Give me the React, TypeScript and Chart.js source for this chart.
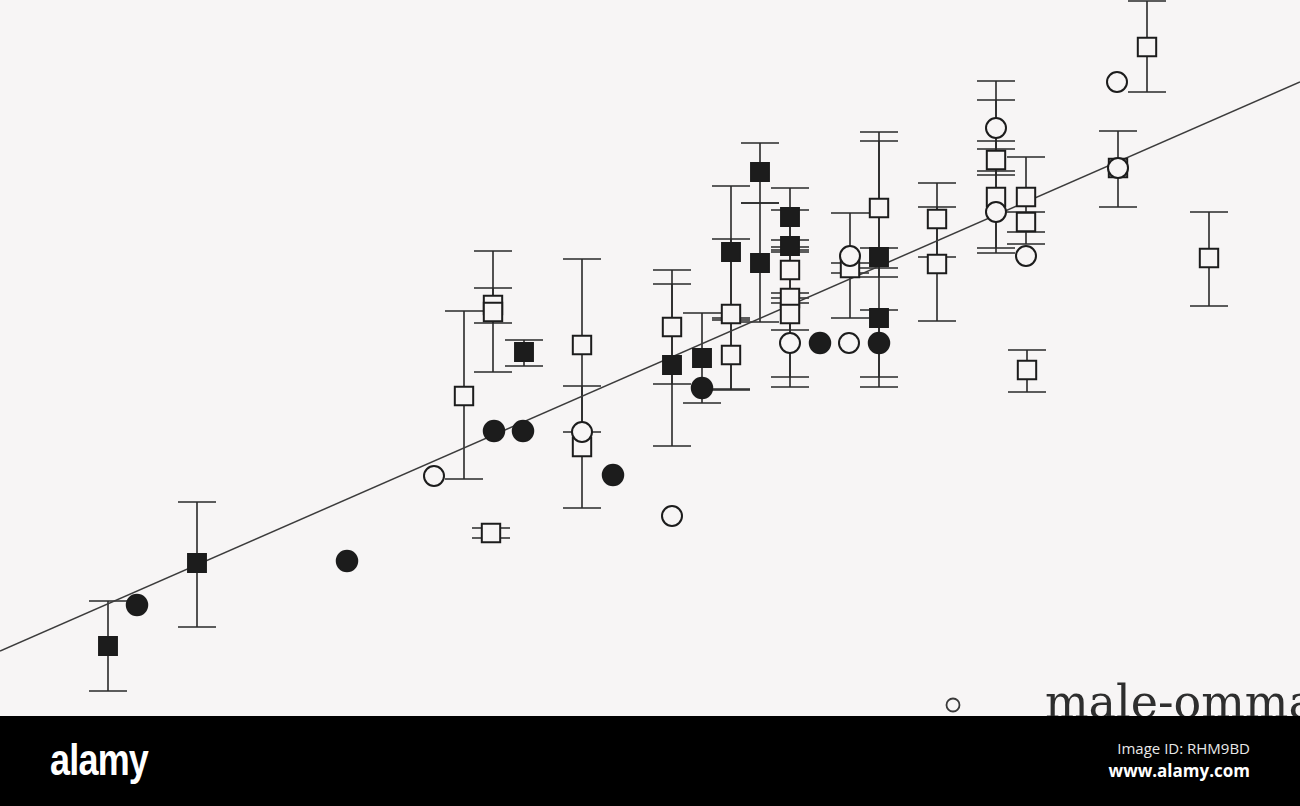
import React, { useEffect, useRef } from "react";
import { Chart, registerables } from "chart.js";

Chart.register(...registerables);

// ---- Data (arbitrary units) ----
// Filled squares
const filledSquareX = [10.8, 19.7, 52.4, 67.2, 70.2, 73.1, 76.0, 76.0, 79.0, 79.0, 87.9, 87.9];
const filledSquareY = [7.0, 15.3, 36.4, 35.1, 35.8, 46.4, 54.4, 45.3, 49.9, 47.0, 45.9, 39.8];
const filledSquareHigh = [11.5, 21.4, 37.6, 43.2, 40.3, 53.0, 57.3, 51.3, 52.8, 47.6, 46.8, 57.5];
const filledSquareLow = [2.5, 8.9, 35.0, 27.0, 31.3, 39.8, 51.3, 39.4, 46.9, 46.4, 44.8, 32.9];

// Open squares
const openSquareX = [46.4, 49.3, 49.3, 58.2, 58.2, 49.1, 67.2, 73.1, 73.1, 79.0, 79.0, 79.0, 85.0, 87.9, 93.7, 93.7, 99.6, 99.6, 102.6, 102.6, 102.7, 111.8, 114.7, 120.9];
const openSquareY = [32.0, 41.1, 40.4, 37.1, 26.9, 18.3, 38.9, 40.2, 36.1, 44.6, 41.8, 40.2, 44.8, 50.8, 49.7, 45.2, 55.6, 51.9, 51.9, 49.4, 34.6, 54.8, 66.9, 45.8];
const openSquareHigh = [40.5, 42.8, 46.5, 45.7, 33.0, 18.8, 44.6, 47.7, 39.6, 50.6, 42.3, 46.6, 45.3, 58.4, 53.3, 50.9, 56.7, 57.5, 55.9, 50.4, 36.6, 58.5, 71.5, 50.4];
const openSquareLow = [23.7, 39.3, 34.4, 28.4, 20.8, 17.8, 33.2, 32.7, 32.6, 38.6, 41.3, 33.9, 44.3, 43.9, 45.9, 39.5, 54.5, 46.3, 47.2, 48.4, 32.4, 50.9, 62.4, 41.0];

// Filled circles
const filledCircleX = [13.7, 34.7, 49.4, 52.3, 61.3, 70.2, 82.0, 87.9];
const filledCircleY = [11.1, 15.5, 28.5, 28.5, 24.1, 32.8, 37.3, 37.3];
const filledCircleHigh = [null, null, null, null, null, null, null, 40.6];
const filledCircleLow = [null, null, null, null, null, null, null, 33.9];

// Open circles
const openCircleX = [43.4, 58.2, 67.2, 79.0, 84.9, 85.0, 99.6, 99.6, 102.6, 111.8, 111.7];
const openCircleY = [24.0, 28.4, 20.0, 37.3, 37.3, 46.0, 58.8, 50.4, 46.0, 54.8, 63.4];
const openCircleHigh = [null, null, null, 41.8, null, 50.3, 63.5, 61.6, null, null, null];
const openCircleLow = [null, null, null, 32.9, null, 39.8, 54.1, 46.8, null, null, null];

// Regression line
const fitX = [0, 130];
const fitY = [6.5, 63.4];

const legendLabel = "male-ommatidia";

const PAPER = "#f7f5f5";
const INK = "#1c1c1c";

function toPoints(xs: number[], ys: number[]) {
  return xs.map((x, i) => ({ x, y: ys[i] }));
}

const errorBarPlugin = {
  id: "errorBars",
  beforeDatasetsDraw(chart: any) {
    const { ctx, scales } = chart;
    const xs = scales.x;
    const ys = scales.y;
    ctx.save();
    ctx.strokeStyle = "#2a2a2a";
    ctx.lineWidth = 1.6;
    chart.data.datasets.forEach((ds: any) => {
      if (!ds.errHigh) return;
      ds.data.forEach((p: any, i: number) => {
        const hi = ds.errHigh[i];
        const lo = ds.errLow[i];
        if (hi == null || lo == null) return;
        const px = xs.getPixelForValue(p.x);
        const pyHi = ys.getPixelForValue(hi);
        const pyLo = ys.getPixelForValue(lo);
        const cap = 19;
        ctx.beginPath();
        ctx.moveTo(px, pyHi);
        ctx.lineTo(px, pyLo);
        ctx.moveTo(px - cap, pyHi);
        ctx.lineTo(px + cap, pyHi);
        ctx.moveTo(px - cap, pyLo);
        ctx.lineTo(px + cap, pyLo);
        ctx.stroke();
      });
    });
    ctx.restore();
  },
  afterDraw(chart: any) {
    // legend marker (open circle)
    const { ctx } = chart;
    ctx.save();
    ctx.strokeStyle = "#3a3a3a";
    ctx.lineWidth = 1.8;
    ctx.beginPath();
    ctx.arc(953, 705, 6.5, 0, Math.PI * 2);
    ctx.stroke();
    ctx.restore();
  },
};

function ChartCanvas() {
  const ref = useRef<HTMLCanvasElement | null>(null);
  useEffect(() => {
    if (!ref.current) return;
    const chart = new Chart(ref.current, {
      type: "scatter",
      data: {
        datasets: [
          {
            type: "line",
            label: "fit",
            data: toPoints(fitX, fitY),
            borderColor: "#3c3c3c",
            borderWidth: 1.6,
            pointRadius: 0,
            fill: false,
            order: 10,
          } as any,
          {
            label: "filled squares",
            data: toPoints(filledSquareX, filledSquareY),
            errHigh: filledSquareHigh,
            errLow: filledSquareLow,
            pointStyle: "rect",
            pointRadius: 13,
            backgroundColor: INK,
            borderColor: INK,
            borderWidth: 1.5,
            order: 3,
          } as any,
          {
            label: "open squares",
            data: toPoints(openSquareX, openSquareY),
            errHigh: openSquareHigh,
            errLow: openSquareLow,
            pointStyle: "rect",
            pointRadius: 13,
            backgroundColor: PAPER,
            borderColor: INK,
            borderWidth: 2,
            order: 4,
          } as any,
          {
            label: "filled circles",
            data: toPoints(filledCircleX, filledCircleY),
            errHigh: filledCircleHigh,
            errLow: filledCircleLow,
            pointStyle: "circle",
            pointRadius: 10.5,
            backgroundColor: INK,
            borderColor: INK,
            borderWidth: 1.5,
            order: 2,
          } as any,
          {
            label: "open circles",
            data: toPoints(openCircleX, openCircleY),
            errHigh: openCircleHigh,
            errLow: openCircleLow,
            pointStyle: "circle",
            pointRadius: 10,
            backgroundColor: PAPER,
            borderColor: INK,
            borderWidth: 2,
            order: 1,
          } as any,
        ],
      },
      options: {
        animation: false,
        responsive: false,
        maintainAspectRatio: false,
        layout: { padding: 0, autoPadding: false },
        plugins: {
          legend: { display: false },
          tooltip: { enabled: false },
          title: { display: false },
        },
        elements: { line: { tension: 0 } },
        scales: {
          x: { type: "linear", min: 0, max: 130, display: false },
          y: { type: "linear", min: 0, max: 71.6, display: false },
        },
      } as any,
      plugins: [errorBarPlugin],
    });
    return () => chart.destroy();
  }, []);
  return (
    <canvas
      ref={ref}
      width={1300}
      height={716}
      style={{ position: "absolute", left: 0, top: 0, width: 1300, height: 716, display: "block" }}
    />
  );
}

export default function App() {
  return (
    <div
      style={{
        position: "fixed",
        left: 0,
        top: 0,
        width: 1300,
        height: 806,
        background: PAPER,
        overflow: "hidden",
      }}
    >
      <ChartCanvas />
      <div
        style={{
          position: "absolute",
          left: 1045,
          top: 679,
          fontFamily: "'DejaVu Serif', serif",
          fontSize: 46,
          lineHeight: "46px",
          color: "#2e2e2e",
          whiteSpace: "nowrap",
        }}
      >
        {legendLabel}
      </div>
      <div
        style={{
          position: "absolute",
          left: 0,
          top: 716,
          width: 1300,
          height: 90,
          background: "#000",
        }}
      >
        <div
          style={{
            position: "absolute",
            left: 50,
            top: 21,
            fontFamily: "'Liberation Sans', Arial, sans-serif",
            fontWeight: 700,
            fontSize: 45,
            lineHeight: "45px",
            letterSpacing: -1,
            color: "#fff",
            transform: "scaleX(0.8)",
            transformOrigin: "left top",
            whiteSpace: "nowrap",
          }}
        >
          alamy
        </div>
        <div
          style={{
            position: "absolute",
            right: 50,
            top: 25,
            fontFamily: "'Open Sans', sans-serif",
            fontSize: 15,
            lineHeight: "15px",
            color: "#e8e8e8",
            textAlign: "right",
            whiteSpace: "nowrap",
          }}
        >
          Image ID: RHM9BD
        </div>
        <div
          style={{
            position: "absolute",
            right: 50,
            top: 46,
            fontFamily: "'Open Sans', sans-serif",
            fontWeight: 700,
            fontSize: 17,
            lineHeight: "17px",
            color: "#fff",
            textAlign: "right",
            whiteSpace: "nowrap",
          }}
        >
          www.alamy.com
        </div>
      </div>
    </div>
  );
}
